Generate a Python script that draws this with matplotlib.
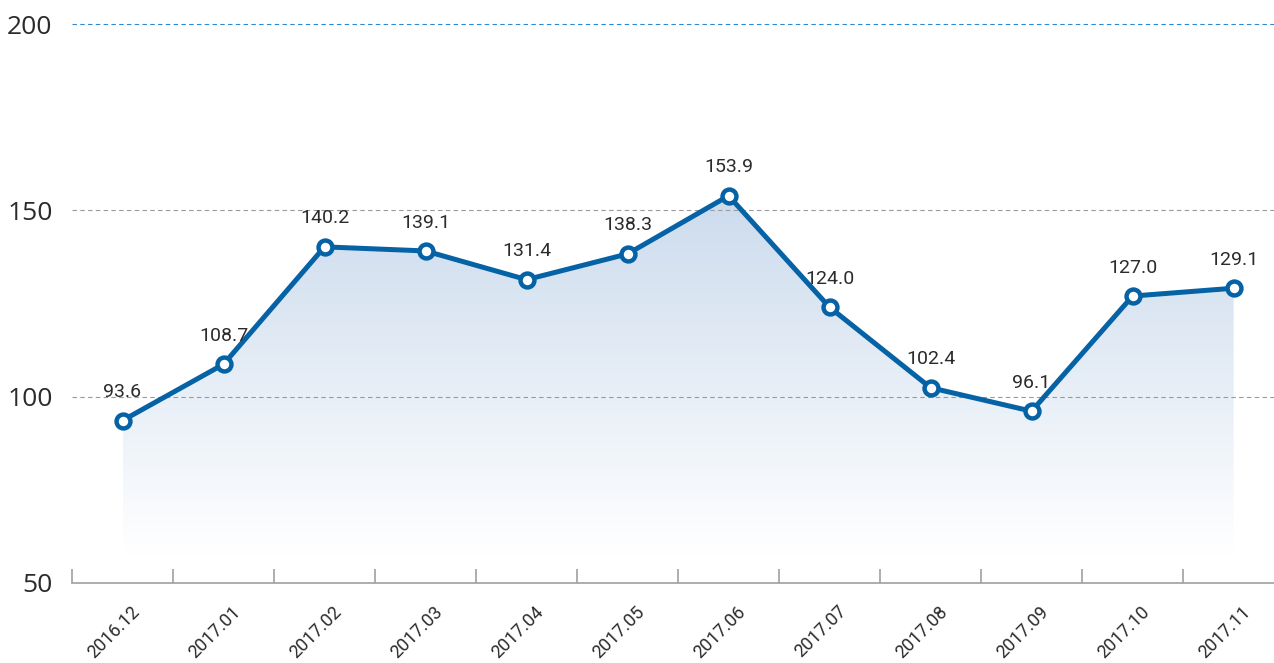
import numpy as np
import matplotlib.pyplot as plt
from matplotlib.patches import Polygon
from matplotlib.transforms import ScaledTranslation

months = ['2016.12', '2017.01', '2017.02', '2017.03', '2017.04', '2017.05',
          '2017.06', '2017.07', '2017.08', '2017.09', '2017.10', '2017.11']
values = [93.6, 108.7, 140.2, 139.1, 131.4, 138.3, 153.9, 124.0, 102.4, 96.1, 127.0, 129.1]
yticks = [50, 100, 150, 200]

line_color = '#0562a5'
text_color = '#2b2b2b'

fig = plt.figure(figsize=(12.74, 6.63), dpi=100)
ax = fig.add_axes([72 / 1274, 80 / 663, 1 - 72 / 1274, (583 - 24) / 663])

x = np.arange(len(values))
ax.set_xlim(-0.5, 11.4)
ax.set_ylim(50, 200)

# gradient fill under the line
fill_bottom = 57.5
verts = [(x[0], fill_bottom)] + list(zip(x, values)) + [(x[-1], fill_bottom)]
poly = Polygon(verts, closed=True, facecolor='none', edgecolor='none')
ax.add_patch(poly)
grad = np.linspace(0, 1, 256).reshape(-1, 1)
top_c = np.array([0.80, 0.86, 0.93])
bot_c = np.array([1.0, 1.0, 1.0])
img = top_c * grad[..., None] + bot_c * (1 - grad[..., None])
im = ax.imshow(img, extent=[x[0], x[-1], fill_bottom, max(values)], origin='lower',
               aspect='auto', zorder=1, interpolation='bilinear')
im.set_clip_path(poly)

# grid lines
for yv in [100, 150]:
    ax.axhline(yv, color='#9a9a9a', lw=0.8, dashes=(4, 3), zorder=2)
ax.axhline(200, color='#2a8ad6', lw=0.8, dashes=(4, 3), zorder=2, clip_on=False)

ax.plot(x, values, color=line_color, lw=3.6, marker='o', ms=10,
        mfc='white', mec=line_color, mew=3.2, zorder=4, clip_on=False)

for xi, v in zip(x, values):
    ax.annotate(f'{v:.1f}', (xi, v), xytext=(0, 14), textcoords='offset points',
                ha='center', va='bottom', fontsize=14, color=text_color,
                family='Roboto', zorder=5)

# axes styling
for s in ['top', 'right', 'left']:
    ax.spines[s].set_visible(False)
ax.spines['bottom'].set_color('#a0a0a0')
ax.spines['bottom'].set_linewidth(1.2)

ax.set_yticks(yticks)
ax.set_yticklabels([str(t) for t in yticks], fontsize=19, color=text_color, family='Open Sans')
ax.tick_params(axis='y', length=0, pad=14)

ax.set_xticks(np.arange(-0.5, 11, 1.0))
ax.set_xticklabels([])
ax.tick_params(axis='x', direction='in', length=10, width=1.2, color='#a0a0a0')
ax.set_xticks(x, minor=True)
ax.set_xticklabels(months, minor=True, rotation=45, ha='right', va='top',
                   rotation_mode='anchor', fontsize=13, color=text_color, family='Roboto')
ax.tick_params(axis='x', which='minor', length=0, pad=14)
shift = ScaledTranslation(8 / 100, 0, fig.dpi_scale_trans)
for lab in ax.get_xticklabels(minor=True):
    lab.set_transform(lab.get_transform() + shift)

fig.savefig('out.png', dpi=100)
